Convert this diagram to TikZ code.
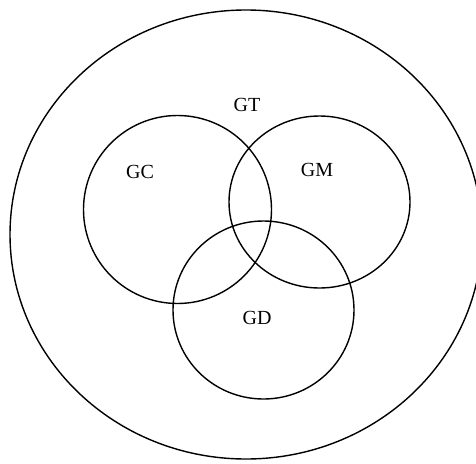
\documentclass[tikz,border=0pt]{standalone}
\usepackage{fontspec}
\setmainfont{Liberation Serif}
\usetikzlibrary{shapes.geometric}
\begin{document}
\begin{tikzpicture}[x=1pt,y=1pt,
  setshape/.style={draw, ellipse, line width=1.4pt, inner sep=0pt},
  setlabel/.style={font=\fontsize{20}{24}\selectfont, inner sep=0pt}]
\useasboundingbox (0,0) rectangle (476,-463);
\clip (0,0) rectangle (476,-463);
\node[setshape, minimum width=472pt, minimum height=449pt] (GTset) at (246,-234.5) {};
\node[setshape, minimum width=188pt, minimum height=188pt] (GCset) at (177.5,-209.5) {};
\node[setshape, minimum width=181pt, minimum height=172pt] (GMset) at (319.5,-202) {};
\node[setshape, minimum width=181pt, minimum height=178pt] (GDset) at (263.5,-310) {};
\node[setlabel] (GT) at (247,-105) {GT};
\node[setlabel] (GC) at (140,-172) {GC};
\node[setlabel] (GM) at (317,-170) {GM};
\node[setlabel] (GD) at (257,-318) {GD};
\end{tikzpicture}
\end{document}
